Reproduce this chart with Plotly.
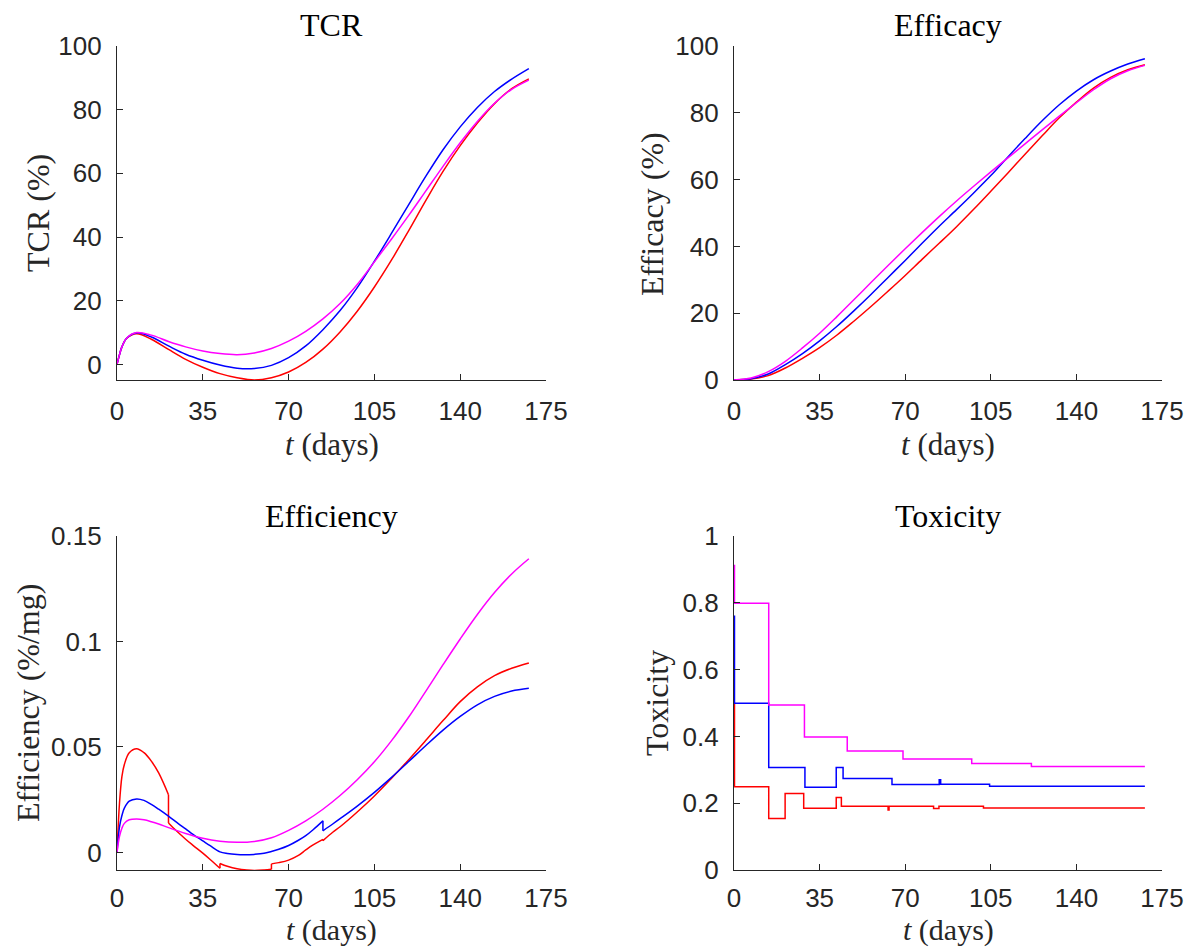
import plotly.graph_objects as go

# ---------------- data ----------------
# TCR (%)
tcr_t = [0, 1, 2, 4, 8, 14, 21, 28, 35, 42, 49, 56, 63, 70, 77, 84, 91, 98, 105, 112, 119, 126, 133, 140, 147, 154, 161, 168]
tcr_red = [0, 3.0, 5.5, 8.2, 9.6, 7.9, 4.7, 1.6, -0.9, -2.9, -4.2, -4.9, -4.2, -2.4, 0.6, 4.8, 10.2, 16.7, 24.3, 32.8, 42.0, 51.5, 60.6, 68.7, 75.8, 81.9, 86.6, 89.7]
tcr_blue = [0, 3.0, 5.5, 8.3, 9.9, 8.6, 5.8, 3.2, 1.3, -0.2, -1.2, -1.3, -0.3, 2.1, 5.8, 10.9, 16.9, 24.1, 32.4, 41.2, 50.2, 59.1, 67.4, 74.6, 80.7, 85.7, 89.6, 92.9]
tcr_magenta = [0, 3.0, 5.5, 8.3, 10.0, 9.2, 7.2, 5.5, 4.2, 3.4, 3.05, 3.6, 5.0, 7.3, 10.4, 14.3, 19.1, 25.1, 32.2, 39.4, 46.8, 54.5, 62.2, 69.6, 76.3, 82.0, 86.4, 89.3]

# Efficacy (%)
efc_t = [0, 7, 14, 21, 28, 35, 42, 49, 56, 63, 70, 77, 84, 91, 98, 105, 112, 119, 126, 133, 140, 147, 154, 161, 168]
efc_red = [0, 0.3, 1.3, 3.6, 6.5, 9.7, 13.4, 17.6, 22.0, 26.6, 31.3, 36.2, 41.0, 45.9, 51.1, 56.5, 62.0, 67.6, 73.1, 78.5, 83.2, 87.4, 90.6, 92.9, 94.4]
efc_blue = [0, 0.4, 1.8, 4.6, 7.9, 11.7, 16.0, 20.7, 25.6, 30.7, 35.8, 41.0, 46.1, 51.0, 56.0, 61.2, 66.8, 72.3, 77.6, 82.4, 86.5, 89.9, 92.5, 94.6, 96.2]
efc_magenta = [0, 0.6, 2.5, 5.6, 9.6, 14.0, 18.9, 24.0, 29.2, 34.3, 39.3, 44.2, 49.0, 53.6, 58.0, 62.3, 66.5, 70.7, 74.9, 79.0, 83.0, 86.9, 90.2, 92.6, 94.2]

# Efficiency (%/mg) -- a repeated t marks a jump
eff_t_red = [0, 1, 2, 3, 5, 8, 11, 14, 17, 21, 21, 24, 28, 31, 35, 38, 42, 42, 45, 49, 53, 56, 60, 63, 63, 66, 70, 74, 77, 80, 84, 84, 88, 91, 98, 105, 112, 119, 126, 133, 140, 147, 154, 161, 168]
eff_red = [0, 0.023, 0.036, 0.0417, 0.0473, 0.0492, 0.0473, 0.0433, 0.0377, 0.0274, 0.0140, 0.0105, 0.0063, 0.0034, -0.0003, -0.0033, -0.0075, -0.0052, -0.0065, -0.0077, -0.0083, -0.0085, -0.0083, -0.0080, -0.0054, -0.0048, -0.0036, -0.0014, 0.0012, 0.0036, 0.0062, 0.0056, 0.0096, 0.0122, 0.0192, 0.0268, 0.0352, 0.0440, 0.0532, 0.0625, 0.0715, 0.0785, 0.0838, 0.0873, 0.0898]
eff_t_blue = [0, 1, 2, 3, 5, 8, 11, 14, 17, 21, 25, 28, 31, 35, 38, 42, 45, 49, 52, 56, 60, 63, 66, 70, 74, 77, 80, 84, 84, 88, 91, 98, 105, 112, 119, 126, 133, 140, 147, 154, 161, 168]
eff_blue = [0, 0.012, 0.0175, 0.021, 0.0243, 0.0254, 0.0247, 0.0228, 0.0205, 0.0172, 0.0137, 0.0112, 0.0086, 0.0055, 0.0032, 0.0003, -0.0005, -0.0010, -0.0011, -0.0009, -0.0004, 0.0005, 0.0015, 0.0033, 0.0058, 0.0080, 0.0108, 0.0150, 0.0103, 0.0135, 0.0160, 0.0220, 0.0285, 0.0356, 0.0431, 0.0507, 0.0580, 0.0645, 0.0700, 0.0740, 0.0765, 0.0778]
eff_t_magenta = [0, 1, 2, 3, 5, 8, 11, 14, 17, 21, 28, 35, 42, 49, 56, 63, 70, 77, 84, 91, 98, 105, 112, 119, 126, 133, 140, 147, 154, 161, 168]
eff_magenta = [0, 0.0075, 0.0115, 0.0138, 0.0155, 0.0159, 0.0155, 0.0146, 0.0135, 0.0118, 0.0090, 0.0067, 0.0053, 0.0048, 0.0052, 0.0070, 0.0105, 0.0150, 0.0205, 0.0270, 0.0345, 0.0430, 0.0530, 0.0642, 0.0765, 0.0890, 0.1012, 0.1128, 0.1232, 0.1320, 0.1392]

# Toxicity (step values)
tox_t_red = [0, 0.2, 14.2, 20.9, 28.5, 41.8, 43.9, 63.0, 63.4, 81.6, 83.8, 102.0, 168]
tox_red = [0.498, 0.249, 0.154, 0.229, 0.185, 0.217, 0.191, 0.180, 0.191, 0.184, 0.191, 0.186, 0.186]
tox_t_blue = [0, 0.2, 14.2, 29.0, 41.8, 44.6, 64.6, 83.9, 84.5, 104.5, 168]
tox_blue = [0.760, 0.499, 0.307, 0.248, 0.307, 0.274, 0.256, 0.270, 0.257, 0.251, 0.251]
tox_t_magenta = [0, 0.2, 14.2, 28.8, 46.3, 69.1, 97.2, 121.6, 168]
tox_magenta = [0.912, 0.799, 0.494, 0.398, 0.356, 0.332, 0.319, 0.310, 0.310]

x_ticks = [0, 35, 70, 105, 140, 175]
titles = ["TCR", "Efficacy", "Efficiency", "Toxicity"]
y_titles = ["TCR (%)", "Efficacy (%)", "Efficiency (%/mg)", "Toxicity"]
x_title = "<i>t</i> (days)"

RED, BLUE, MAG = "#FF0000", "#0000FF", "#FF00FF"
AX = "#262626"
SERIF = "Liberation Serif"
SANS = "Liberation Sans"

# ---------------- figure ----------------
W, H = 1190, 949
dom_x = [[117 / W, 546 / W], [734 / W, 1162 / W]]
dom_y_top = [1 - 380 / H, 1 - 46 / H]
dom_y_bot = [1 - 870 / H, 1 - 536 / H]

fig = go.Figure()


def split_jumps(t, v):
    xs, ys = [], []
    for i in range(len(t)):
        if i > 0 and t[i] == t[i - 1]:
            xs += [None, t[i - 1], t[i], None]
            ys += [None, v[i - 1], v[i], None]
        xs.append(t[i])
        ys.append(v[i])
    return xs, ys


def add(t, v, color, xa, ya, shape="spline"):
    fig.add_trace(go.Scatter(x=t, y=v, mode="lines", xaxis=xa, yaxis=ya,
                             line=dict(color=color, width=1.5, shape=shape),
                             showlegend=False, hoverinfo="skip"))


add(tcr_t, tcr_red, RED, "x", "y")
add(tcr_t, tcr_blue, BLUE, "x", "y")
add(tcr_t, tcr_magenta, MAG, "x", "y")

add(efc_t, efc_red, RED, "x2", "y2")
add(efc_t, efc_blue, BLUE, "x2", "y2")
add(efc_t, efc_magenta, MAG, "x2", "y2")

for tt, vv, c in [(eff_t_red, eff_red, RED), (eff_t_blue, eff_blue, BLUE),
                  (eff_t_magenta, eff_magenta, MAG)]:
    xs, ys = split_jumps(tt, vv)
    add(xs, ys, c, "x3", "y3")

add(tox_t_red, tox_red, RED, "x4", "y4", "hv")
add(tox_t_blue, tox_blue, BLUE, "x4", "y4", "hv")
add(tox_t_magenta, tox_magenta, MAG, "x4", "y4", "hv")

common_ax = dict(showline=True, linecolor=AX, linewidth=1.3, mirror=False,
                 ticks="inside", ticklen=6, tickwidth=1.3, tickcolor=AX,
                 showgrid=False, zeroline=False,
                 tickfont=dict(family=SANS, size=26, color=AX))

xax_top = dict(common_ax, range=[0, 175], tickvals=x_ticks, ticklabelstandoff=8)
xax_bot = dict(common_ax, range=[0, 175], tickvals=x_ticks, ticklabelstandoff=5)

fig.update_layout(
    width=W, height=H, margin=dict(l=0, r=0, t=0, b=0, pad=0, autoexpand=False),
    plot_bgcolor="white", paper_bgcolor="white",
    xaxis=dict(xax_top, domain=dom_x[0], anchor="y"),
    yaxis=dict(common_ax, domain=dom_y_top, anchor="x", range=[-4.9, 100],
               tickvals=[0, 20, 40, 60, 80, 100], ticklabelstandoff=9),
    xaxis2=dict(xax_top, domain=dom_x[1], anchor="y2"),
    yaxis2=dict(common_ax, domain=dom_y_top, anchor="x2", range=[0, 100],
                tickvals=[0, 20, 40, 60, 80, 100], ticklabelstandoff=9),
    xaxis3=dict(xax_bot, domain=dom_x[0], anchor="y3"),
    yaxis3=dict(common_ax, domain=dom_y_bot, anchor="x3", range=[-0.0083, 0.15],
                tickvals=[0, 0.05, 0.1, 0.15], ticktext=["0", "0.05", "0.1", "0.15"],
                ticklabelstandoff=9),
    xaxis4=dict(xax_bot, domain=dom_x[1], anchor="y4"),
    yaxis4=dict(common_ax, domain=dom_y_bot, anchor="x4", range=[0, 1],
                tickvals=[0, 0.2, 0.4, 0.6, 0.8, 1], ticktext=["0", "0.2", "0.4", "0.6", "0.8", "1"],
                ticklabelstandoff=9),
)

# titles and axis labels as annotations
cx = [(dom_x[0][0] + dom_x[0][1]) / 2, (dom_x[1][0] + dom_x[1][1]) / 2]
title_y = [1 - 25 / H, 1 - 25 / H, 1 - 516 / H, 1 - 516 / H]
ylab_x = [38 / W, 652 / W, 28 / W, 657 / W]
ylab_y = [1 - 213 / H, 1 - 214 / H, 1 - 703 / H, 1 - 703 / H]
for i in range(4):
    c = cx[i % 2]
    fig.add_annotation(x=c, y=title_y[i], xref="paper", yref="paper", text=titles[i],
                       showarrow=False, xanchor="center", yanchor="middle",
                       font=dict(family=SERIF, size=32, color="black"))
    if i < 2:
        fig.add_annotation(x=c, y=1 - 444 / H, xref="paper", yref="paper", text=x_title,
                           showarrow=False, xanchor="center", yanchor="middle",
                           font=dict(family=SERIF, size=31, color=AX))
    else:
        fig.add_annotation(x=c, y=0, xref="paper", yref="paper", text=x_title,
                           showarrow=False, xanchor="center", yanchor="bottom",
                           font=dict(family=SERIF, size=30, color=AX))
    fig.add_annotation(x=ylab_x[i], y=ylab_y[i], xref="paper", yref="paper", text=y_titles[i],
                       showarrow=False, xanchor="center", yanchor="middle", textangle=-90,
                       font=dict(family=SERIF, size=32, color=AX))

fig.write_html("out.html", config={"displayModeBar": False},
               post_script="document.body.style.margin='0';")
